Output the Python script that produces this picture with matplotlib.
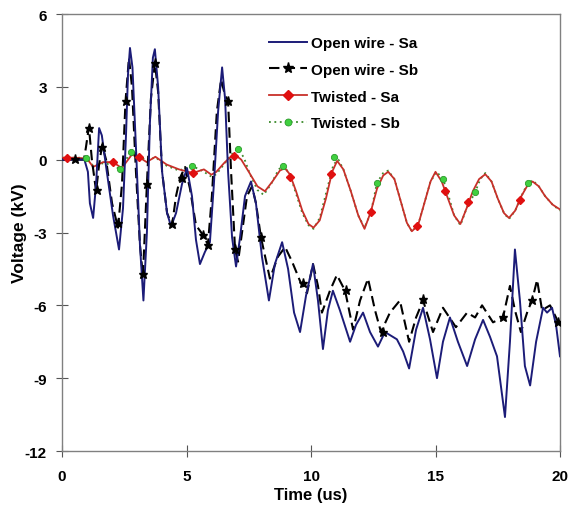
import matplotlib
matplotlib.use("Agg")
import matplotlib.pyplot as plt
from matplotlib.lines import Line2D

plt.rcParams['font.family'] = ['Liberation Sans', 'DejaVu Sans']
plt.rcParams['font.weight'] = 'bold'
plt.rcParams['axes.unicode_minus'] = False

# Open wire - Sa (solid navy)
ow_sa_t = [0, 0.9, 1.04, 1.12, 1.25, 1.37, 1.49, 1.6, 1.8, 2.05, 2.29, 2.45, 2.57, 2.65, 2.73,
           2.83, 2.97, 3.13, 3.27, 3.41, 3.53, 3.65, 3.73, 3.86, 4.02, 4.22, 4.38, 4.58, 4.82,
           5.02, 5.22, 5.38, 5.54, 5.74, 5.94, 6.1, 6.27, 6.43, 6.55, 6.67, 6.83, 6.99, 7.15,
           7.35, 7.59, 7.79, 8.03, 8.31, 8.55, 8.84, 9.08, 9.32, 9.56, 9.8, 10.08, 10.28, 10.48,
           10.68, 10.88, 11.16, 11.57, 11.81, 12.09, 12.37, 12.69, 12.97, 13.45, 13.7, 13.94,
           14.22, 14.5, 14.78, 15.06, 15.3, 15.58, 15.9, 16.27, 16.59, 16.91, 17.19, 17.47,
           17.79, 17.99, 18.19, 18.39, 18.59, 18.8, 19.04, 19.32, 19.48, 19.68, 19.84, 20.0]
ow_sa_v = [0, 0, -0.5, -1.8, -2.4, -1.0, 1.3, 1.0, -0.5, -2.3, -3.7, -2.0, 1.0, 3.5, 4.6,
           3.8, 0.5, -3.5, -5.8, -3.0, 1.5, 4.2, 4.55, 3.0, -0.5, -2.2, -2.75, -2.2, -1.0,
           -0.35, -1.5, -3.3, -4.3, -3.8, -3.4, -1.0, 2.0, 3.8, 2.5, -0.5, -3.2, -4.4, -3.2,
           -1.5, -0.9, -1.8, -4.0, -5.8, -4.3, -3.4, -4.5, -6.3, -7.1, -5.6, -4.3, -5.8, -7.8,
           -6.2, -5.4, -6.2, -7.5, -6.8, -6.3, -7.1, -7.7, -7.1, -7.4, -7.9, -8.6,
           -7.0, -6.1, -7.4, -9.0, -7.5, -6.5, -7.5, -8.5, -7.4, -6.6, -7.3, -8.1,
           -10.6, -7.5, -3.7, -5.8, -8.5, -9.3, -7.5, -6.1, -6.3, -6.1, -6.8, -8.1]

# Open wire - Sb (dashed black, stars)
ow_sb_t = [0, 0.88, 0.96, 1.08, 1.2, 1.37, 1.49, 1.61, 1.77, 2.01, 2.25, 2.41, 2.55, 2.69, 2.81,
           2.97, 3.13, 3.25, 3.41, 3.57, 3.73, 3.86, 4.02, 4.22, 4.42, 4.58, 4.74, 4.94, 5.14,
           5.38, 5.66, 5.86, 6.02, 6.22, 6.39, 6.51, 6.67, 6.79, 6.95, 7.07, 7.23, 7.43, 7.63,
           7.79, 7.99, 8.35, 8.67, 8.96, 9.24, 9.56, 9.84, 10.08, 10.28, 10.44, 10.76, 11.04,
           11.37, 11.69, 11.97, 12.29, 12.57, 12.81, 13.17, 13.57, 13.94, 14.22, 14.5, 14.9,
           15.3, 15.82, 16.27, 16.59, 16.87, 17.31, 17.71, 17.99, 18.19, 18.43, 18.71, 18.88,
           19.08, 19.28, 19.6, 19.84, 19.92, 20.0]
ow_sb_v = [0, 0, 0.5, 1.35, 0.0, -1.3, -0.2, 0.6, 0.0, -1.8, -2.8, -1.0, 2.4, 4.2, 3.0,
           -0.5, -3.5, -4.8, -1.0, 2.5, 4.0, 2.8, -0.5, -2.2, -2.7, -1.5, -0.75, -0.3, -1.2,
           -2.7, -3.1, -3.5, -1.5, 2.0, 3.3, 2.8, 2.4, -0.5, -3.7, -4.2, -3.0, -1.5, -1.1,
           -1.8, -3.2, -4.9, -4.0, -3.6, -4.2, -5.0, -5.5, -4.3, -5.2, -6.3, -5.4, -4.75,
           -5.4, -7.0, -5.8, -4.9, -6.2, -7.1, -6.3, -5.8, -7.5, -6.5, -5.8, -7.1,
           -6.1, -6.9, -6.3, -6.5, -6.0, -6.7, -6.5, -5.2, -6.2, -7.1, -6.2, -5.8,
           -4.95, -6.2, -6.0, -6.5, -6.7, -6.9]
ow_sb_mark_t = [0.52, 1.08, 1.41, 1.6, 2.25, 2.57, 3.25, 3.41, 3.73, 4.42, 4.82, 5.66, 5.86,
                6.67, 6.95, 7.99, 9.68, 11.4, 12.9, 14.5, 17.71, 18.88, 19.92]
ow_sb_mark_v = [0.04, 1.32, -1.23, 0.53, -2.6, 2.4, -4.7, -1.0, 4.0, -2.65, -0.75, -3.1, -3.5,
                2.4, -3.7, -3.2, -5.06, -5.35, -7.1, -5.75, -6.5, -5.76, -6.7]

# Twisted - Sa (red solid, diamonds)
tw_sa_t = [0, 0.5, 1.0, 1.25, 1.65, 2.05, 2.4, 2.8, 3.1, 3.4, 3.75, 4.2, 4.7, 5.25, 5.7, 6.0,
           6.2, 6.5, 6.75, 6.95, 7.2, 7.5, 7.85, 8.15, 8.45, 8.75, 8.95, 9.15, 9.4, 9.65, 9.9,
           10.1, 10.35, 10.6, 10.85, 11.05, 11.3, 11.6, 11.9, 12.15, 12.4, 12.65, 12.9, 13.1,
           13.35, 13.6, 13.85, 14.05, 14.3, 14.55, 14.8, 15.0, 15.25, 15.5, 15.75, 16.0, 16.25,
           16.5, 16.75, 17.0, 17.25, 17.5, 17.75, 17.95, 18.2, 18.45, 18.7, 18.9, 19.15, 19.4,
           19.7, 20.0]
tw_sa_v = [0.08, 0.08, 0.05, -0.3, -0.1, -0.1, -0.35, 0.2, 0.1, -0.1, 0.12, -0.2, -0.4, -0.55,
           -0.4, -0.62, -0.5, -0.15, 0.1, 0.2, 0.0, -0.5, -1.1, -1.3, -0.9, -0.45, -0.35, -0.6,
           -1.3, -2.1, -2.65, -2.8, -2.5, -1.6, -0.5, -0.05, -0.4, -1.3, -2.3, -2.85, -2.15,
           -1.2, -0.65, -0.5, -0.8, -1.7, -2.6, -2.95, -2.7, -1.8, -0.9, -0.5, -0.9, -1.6,
           -2.3, -2.65, -2.0, -1.3, -0.8, -0.6, -0.9, -1.6, -2.2, -2.4, -2.1, -1.5, -1.05,
           -0.9, -1.1, -1.5, -1.85, -2.05]
tw_sa_mark_t = [0.2, 2.05, 3.1, 5.25, 6.9, 9.15, 10.8, 12.4, 14.26, 15.38, 16.3, 18.4]
tw_sa_mark_v = [0.08, -0.1, 0.1, -0.55, 0.17, -0.7, -0.58, -2.15, -2.75, -1.3, -1.75, -1.65]

# Twisted - Sb (green dotted, circles)
tw_sb_t = [0, 0.5, 0.96, 1.25, 1.65, 2.0, 2.33, 2.77, 3.1, 3.4, 3.75, 4.2, 4.7, 5.22, 5.7, 6.0,
           6.2, 6.5, 6.75, 7.05, 7.3, 7.55, 7.85, 8.1, 8.4, 8.7, 8.9, 9.15, 9.4, 9.65, 9.9,
           10.1, 10.35, 10.6, 10.9, 11.1, 11.3, 11.6, 11.9, 12.15, 12.4, 12.65, 12.9, 13.1,
           13.35, 13.6, 13.85, 14.05, 14.3, 14.55, 14.8, 15.05, 15.3, 15.5, 15.75, 16.0, 16.25,
           16.59, 16.8, 17.0, 17.25, 17.5, 17.75, 17.95, 18.2, 18.45, 18.71, 18.9, 19.15, 19.4,
           19.7, 20.0]
tw_sb_v = [0.08, 0.08, 0.08, -0.25, -0.15, -0.2, -0.4, 0.33, 0.15, -0.05, 0.1, -0.25, -0.45,
           -0.25, -0.5, -0.7, -0.6, -0.2, 0.15, 0.45, 0.1, -0.6, -1.25, -1.45, -1.0, -0.4,
           -0.25, -0.6, -1.4, -2.2, -2.7, -2.85, -2.4, -1.4, -0.2, 0.0, -0.4, -1.3, -2.3,
           -2.8, -2.2, -0.95, -0.55, -0.45, -0.8, -1.7, -2.6, -2.95, -2.7, -1.8, -0.9, -0.5,
           -0.8, -1.4, -2.3, -2.7, -2.0, -1.35, -0.8, -0.55, -0.9, -1.6, -2.2, -2.45, -2.1,
           -1.5, -0.95, -0.85, -1.1, -1.5, -1.85, -2.1]
tw_sb_mark_t = [0.96, 2.33, 2.77, 5.22, 7.07, 8.88, 10.92, 12.65, 15.3, 16.59, 18.71]
tw_sb_mark_v = [0.08, -0.4, 0.33, -0.25, 0.45, -0.25, 0.12, -0.95, -0.8, -1.35, -0.95]

x_ticks = [0, 5, 10, 15, 20]
y_ticks = [-12, -9, -6, -3, 0, 3, 6]

navy = '#1c1c78'
red_line = '#c8302a'
red_mark = '#e01010'
green_line = '#3a8a2a'
green_mark = '#40d040'

fig = plt.figure(figsize=(5.7, 5.1), dpi=100)
ax = fig.add_axes([62 / 570, 1 - 452 / 510, 498 / 570, 437 / 510])

ax.plot(tw_sb_t, tw_sb_v, color=green_line, lw=1.3, ls=(0, (1, 2)), zorder=2)
ax.plot(tw_sa_t, tw_sa_v, color=red_line, lw=1.3, zorder=3)
ax.plot(ow_sb_t, ow_sb_v, color='black', lw=1.5, ls=(0, (5, 2.5)), zorder=4)
ax.plot(ow_sa_t, ow_sa_v, color=navy, lw=1.4, zorder=5)

ax.plot(tw_sb_mark_t, tw_sb_mark_v, ls='none', marker='o', ms=4.5, mfc=green_mark,
        mec='#2a9a2a', mew=0.6, zorder=6)
ax.plot(tw_sa_mark_t, tw_sa_mark_v, ls='none', marker='D', ms=4.5, mfc=red_mark,
        mec=red_mark, zorder=6)
ax.plot(ow_sb_mark_t, ow_sb_mark_v, ls='none', marker='*', ms=6.5, mfc='black',
        mec='black', zorder=6)

handles = [
    Line2D([], [], color=navy, lw=1.4),
    Line2D([], [], color='black', lw=1.5, ls=(0, (5, 2.5)), marker='*', ms=8, mfc='black'),
    Line2D([], [], color=red_line, lw=1.3, marker='D', ms=5.5, mfc=red_mark, mec=red_mark),
    Line2D([], [], color=green_line, lw=1.3, ls=(0, (1, 2)), marker='o', ms=5,
           mfc=green_mark, mec='#2a9a2a', mew=0.6),
]
labels = ['Open wire - Sa', 'Open wire - Sb', 'Twisted - Sa', 'Twisted - Sb']
ax.legend(handles, labels, loc='upper left', bbox_to_anchor=(0.415, 0.95), frameon=False,
          fontsize=11, handlelength=2.5, handletextpad=0.25, labelspacing=0.84,
          borderpad=0, borderaxespad=0)

ax.set_xlim(0, 20)
ax.set_ylim(-12, 6)
ax.set_xticks(x_ticks)
ax.set_yticks(y_ticks)
ax.tick_params(direction='inout', length=8, width=0.8, color='#555555', labelsize=11)
ax.tick_params(axis='x', pad=9)
ax.tick_params(axis='y', pad=7)
for s in ax.spines.values():
    s.set_color('#808080')
    s.set_linewidth(1.0)

ax.set_xlabel('Time (us)', fontsize=12, fontweight='bold', labelpad=3)
ax.set_ylabel('Voltage (kV)', fontsize=12.5, fontweight='bold')
ax.yaxis.set_label_coords(-0.07, 0.5)

fig.savefig('out.png', dpi=100)
